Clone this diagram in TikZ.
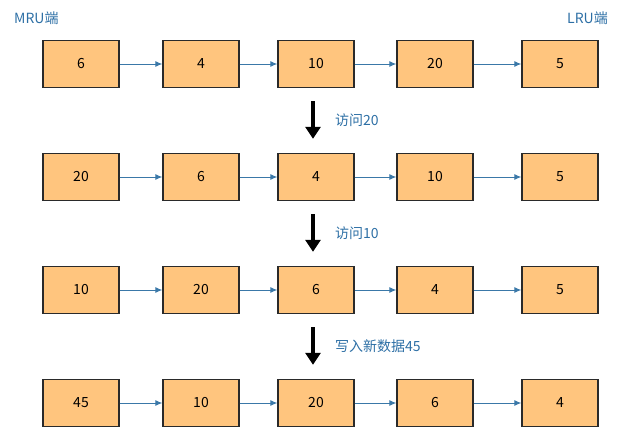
\documentclass[tikz,border=0pt]{standalone}
\usepackage{fontspec}
\setmainfont{Noto Sans CJK SC}
\usepackage{tikz}
\usetikzlibrary{arrows.meta}
\usetikzlibrary{calc}
\usetikzlibrary{positioning}
\usepackage{xcolor}
\definecolor{myblack}{HTML}{2A2A2A}
\definecolor{myorange}{HTML}{FFC57E}
\definecolor{myblue}{HTML}{3A78A8}
\definecolor{mylabel}{HTML}{2D6FA5}
\tikzset{x=1pt, y=-1pt, every text node part/.style={align=center, font={\fontsize{14}{16}\selectfont}}}
\tikzstyle{cell} = [draw=myblack, fill=myorange, line width=1.4pt, minimum width=76pt, minimum height=47pt, inner sep=0pt]
\tikzstyle{ln} = [draw=myblue, line width=0.9pt, -{Latex[length=7pt,width=6pt]}]
\tikzstyle{steparrow} = [draw=black, line width=4pt, -{Triangle[length=12pt,width=15pt]}]
\tikzstyle{note} = [text=mylabel, inner sep=0pt]

\begin{document}
\begin{tikzpicture}
  \useasboundingbox (0,0) rectangle (640,434);
  % rows of the list
  \foreach \r/\y/\list in {1/64/{6,4,10,20,5}, 2/177/{20,6,4,10,5}, 3/290/{10,20,6,4,5}, 4/403/{45,10,20,6,4}} {
    \foreach \v [count=\c] in \list {
      \pgfmathsetmacro\xx{{81,201,316,435,560}[\c-1]}
      \node[cell] (b\r\c) at (\xx,\y) {\v};
    }
    \foreach \c [evaluate=\c as \n using int(\c+1)] in {1,...,4}
      \draw[ln] (b\r\c.east) -- (b\r\n.west);
  }
  \node[note, anchor=west] (mru) at (14,18) {MRU端};
  \node[note, anchor=east] (lru) at (608,18) {LRU端};
  % steps
  \foreach \r/\txt [evaluate=\r as \n using int(\r+1)] in {1/访问20, 2/访问10, 3/写入新数据45} {
    \coordinate (top\r) at ($(b\r3.south)+(-3,13)$);
    \coordinate (tip\r) at ($(b\n3.north)+(-3,-14)$);
    \draw[steparrow] (top\r) -- (tip\r);
    \node[note, anchor=west] (act\r) at ($(top\r)!0.5!(tip\r)+(22,0)$) {\txt};
  }
\end{tikzpicture}
\end{document}
